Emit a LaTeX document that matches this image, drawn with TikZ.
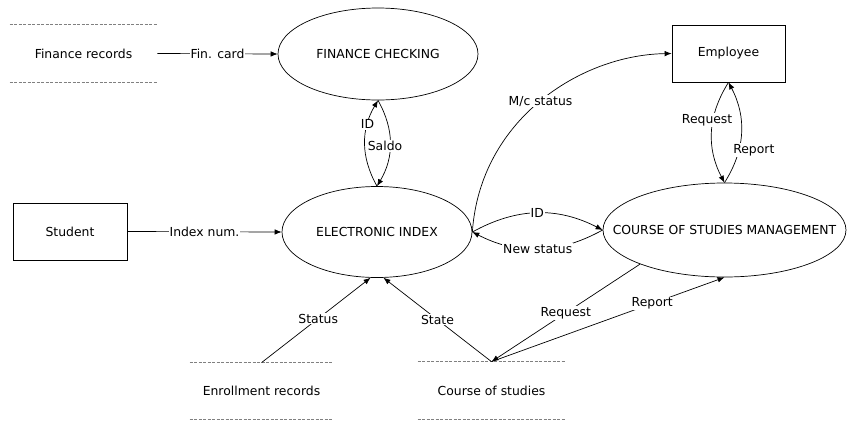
\documentclass[tikz,border=0pt]{standalone}
\usepackage{fontspec}
\setmainfont{DejaVu Sans}
\usetikzlibrary{arrows.meta,shapes.geometric}
\begin{document}
\begin{tikzpicture}[x=1pt,y=1pt,
  font=\fontsize{12.4}{14}\selectfont,
  line width=0.7pt,
  proc/.style={draw, ellipse, inner sep=0pt},
  entity/.style={draw, rectangle, inner sep=0pt},
  store/.style={inner sep=0pt},
  storeline/.style={gray, dash pattern=on 3pt off 1.5pt, line width=0.8pt},
  flow/.style={-{Latex[length=7pt,width=5.5pt]}},
  lbl/.style={fill=white, inner sep=1pt}
]
\useasboundingbox (0,0) rectangle (848,-421);

% processes
\node[proc, minimum width=200pt, minimum height=92pt] (fc) at (378,-54) {};
\node at (fc) {FINANCE CHECKING};
\node[proc, minimum width=190pt, minimum height=91pt] (ei) at (377,-232) {};
\node at (ei) {ELECTRONIC INDEX};
\node[proc, minimum width=243pt, minimum height=94pt] (csm) at (724.5,-230) {};
\node at (csm) {COURSE OF STUDIES MANAGEMENT};

% external entities
\node[entity, minimum width=113pt, minimum height=57pt] (emp) at (728.5,-53.5) {Employee};
\node[entity, minimum width=114pt, minimum height=57pt] (st) at (70,-231.5) {Student};

% data stores
\node[store, minimum width=147pt, minimum height=57pt] (fr) at (83.5,-53.5) {Finance records};
\node[store, minimum width=143pt, minimum height=56pt] (er) at (261.5,-391) {Enrollment records};
\node[store, minimum width=147pt, minimum height=57pt] (cs) at (491.5,-390.5) {Course of studies};
\foreach \s in {fr,er,cs}{
  \draw[storeline] (\s.north west) -- (\s.north east);
  \draw[storeline] (\s.south west) -- (\s.south east);
}

% data flows
\draw[flow] (fr.east) -- node[lbl]{Fin. card} (fc.west);
\draw[flow] (st.east) -- node[lbl, pos=0.5]{Index num.} (ei.west);

\draw[flow] (ei.north) to[bend left=30] node[lbl, pos=0.72]{ID} (fc.south);
\draw[flow] (fc.south) to[bend left=30] node[lbl, pos=0.53, xshift=-5pt]{Saldo} (ei.north);

\draw[flow] (ei.east) .. controls (480,-120) and (580,-55) .. node[lbl, pos=0.5]{M/c status} (emp.west);

\draw[flow] (ei.east) to[bend left=28] node[lbl]{ID} (csm.west);
\draw[flow] (csm.west) to[bend left=28] node[lbl]{New status} (ei.east);

\draw[flow] (emp.south) to[bend right=30] node[lbl, pos=0.38, xshift=-6pt]{Request} (csm.north);
\draw[flow] (csm.north) to[bend right=30] node[lbl, pos=0.33, xshift=15pt]{Report} (emp.south);

\draw[flow] (er.north) -- node[lbl, pos=0.52]{Status} (ei.262);
\draw[flow] (cs.north) -- node[lbl, pos=0.5]{State} (ei.278);

\draw[flow] (csm.202) -- node[lbl, pos=0.5]{Request} (cs.north);
\draw[flow] (cs.north) -- node[lbl, pos=0.69]{Report} (csm.south);
\end{tikzpicture}
\end{document}
